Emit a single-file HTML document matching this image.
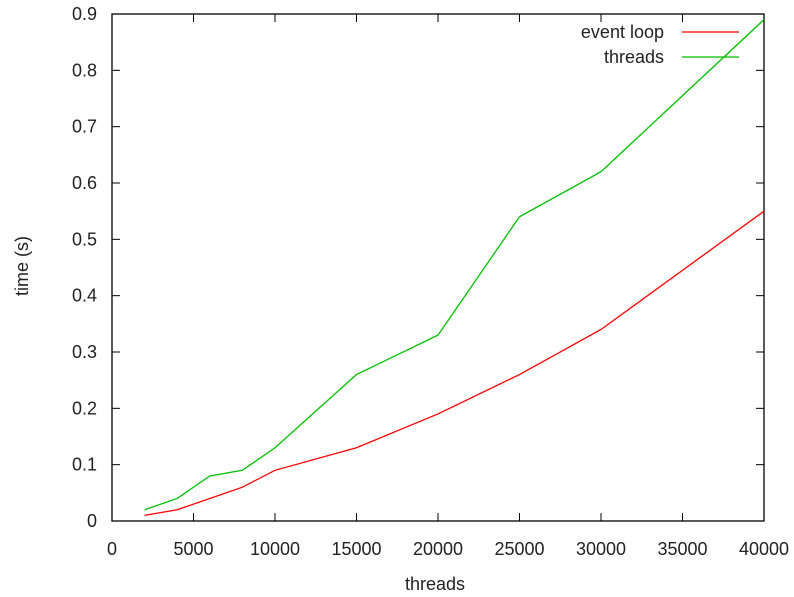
<!DOCTYPE html>
<html><head><meta charset="utf-8"><style>body{margin:0;background:#fff}svg{display:block;font-family:"Liberation Sans",sans-serif}</style></head>
<body>
<svg id="chart" width="794" height="597"></svg>
<script>
const xValues=[2000,4000,6000,8000,10000,15000,20000,25000,30000,40000];
const eventLoop=[0.01,0.02,0.04,0.06,0.09,0.13,0.19,0.26,0.34,0.55];
const threads=[0.02,0.04,0.08,0.09,0.13,0.26,0.33,0.54,0.62,0.89];
const xTicks=[0,5000,10000,15000,20000,25000,30000,35000,40000];
const yTicks=[0,0.1,0.2,0.3,0.4,0.5,0.6,0.7,0.8,0.9];
const L=112,R=764,T=14,B=521;
const sx=v=>L+(R-L)*v/40000, sy=v=>B-(B-T)*v/0.9;
const svg=document.getElementById('chart'),NS='http://www.w3.org/2000/svg';
function mk(t,a,p){const e=document.createElementNS(NS,t);for(const k in a)e.setAttribute(k,a[k]);(p||svg).appendChild(e);return e;}
let e;
e=mk('rect',{x:L,y:T,width:R-L,height:B-T,fill:'none',stroke:'#000','stroke-width':1.3});


xTicks.forEach(v=>{const x=sx(v);
 mk('line',{x1:x,x2:x,y1:B,y2:B-8,stroke:'#000'});mk('line',{x1:x,x2:x,y1:T,y2:T+8,stroke:'#000'});
 e=mk('text',{x:x,y:555,'text-anchor':'middle','font-size':18,fill:'#222'});e.textContent=v;
 
 });
yTicks.forEach(v=>{const y=sy(v);
 mk('line',{x1:L,x2:L+8,y1:y,y2:y,stroke:'#000'});mk('line',{x1:R,x2:R-8,y1:y,y2:y,stroke:'#000'});
 e=mk('text',{x:97,y:y+6,'text-anchor':'end','font-size':18,fill:'#222'});e.textContent=v;
 
 });
e=mk('text',{x:435,y:590,'text-anchor':'middle','font-size':18,fill:'#222'});e.textContent='threads';


e=mk('text',{x:0,y:0,'text-anchor':'middle','font-size':18,fill:'#222',transform:'translate(28,266) rotate(-90)'});e.textContent='time (s)';


function series(vals,col,name){
 e=mk('polyline',{points:xValues.map((x,i)=>sx(x)+','+sy(vals[i])).join(' '),fill:'none',stroke:col,'stroke-width':1.3});
 
 }
series(eventLoop,'#ff0000','event-loop-line');
series(threads,'#00c000','threads-line');
[['event loop','#ff0000',32],['threads','#00c000',57]].forEach(([t,c,y],i)=>{
 const g=mk('g',{});
 
 
 const tx=mk('text',{x:664,y:y+6,'text-anchor':'end','font-size':18,fill:'#222'},g);tx.textContent=t;
 mk('line',{x1:682,x2:739,y1:y,y2:y,stroke:c,'stroke-width':1.3},g);});
</script>
</body></html>
